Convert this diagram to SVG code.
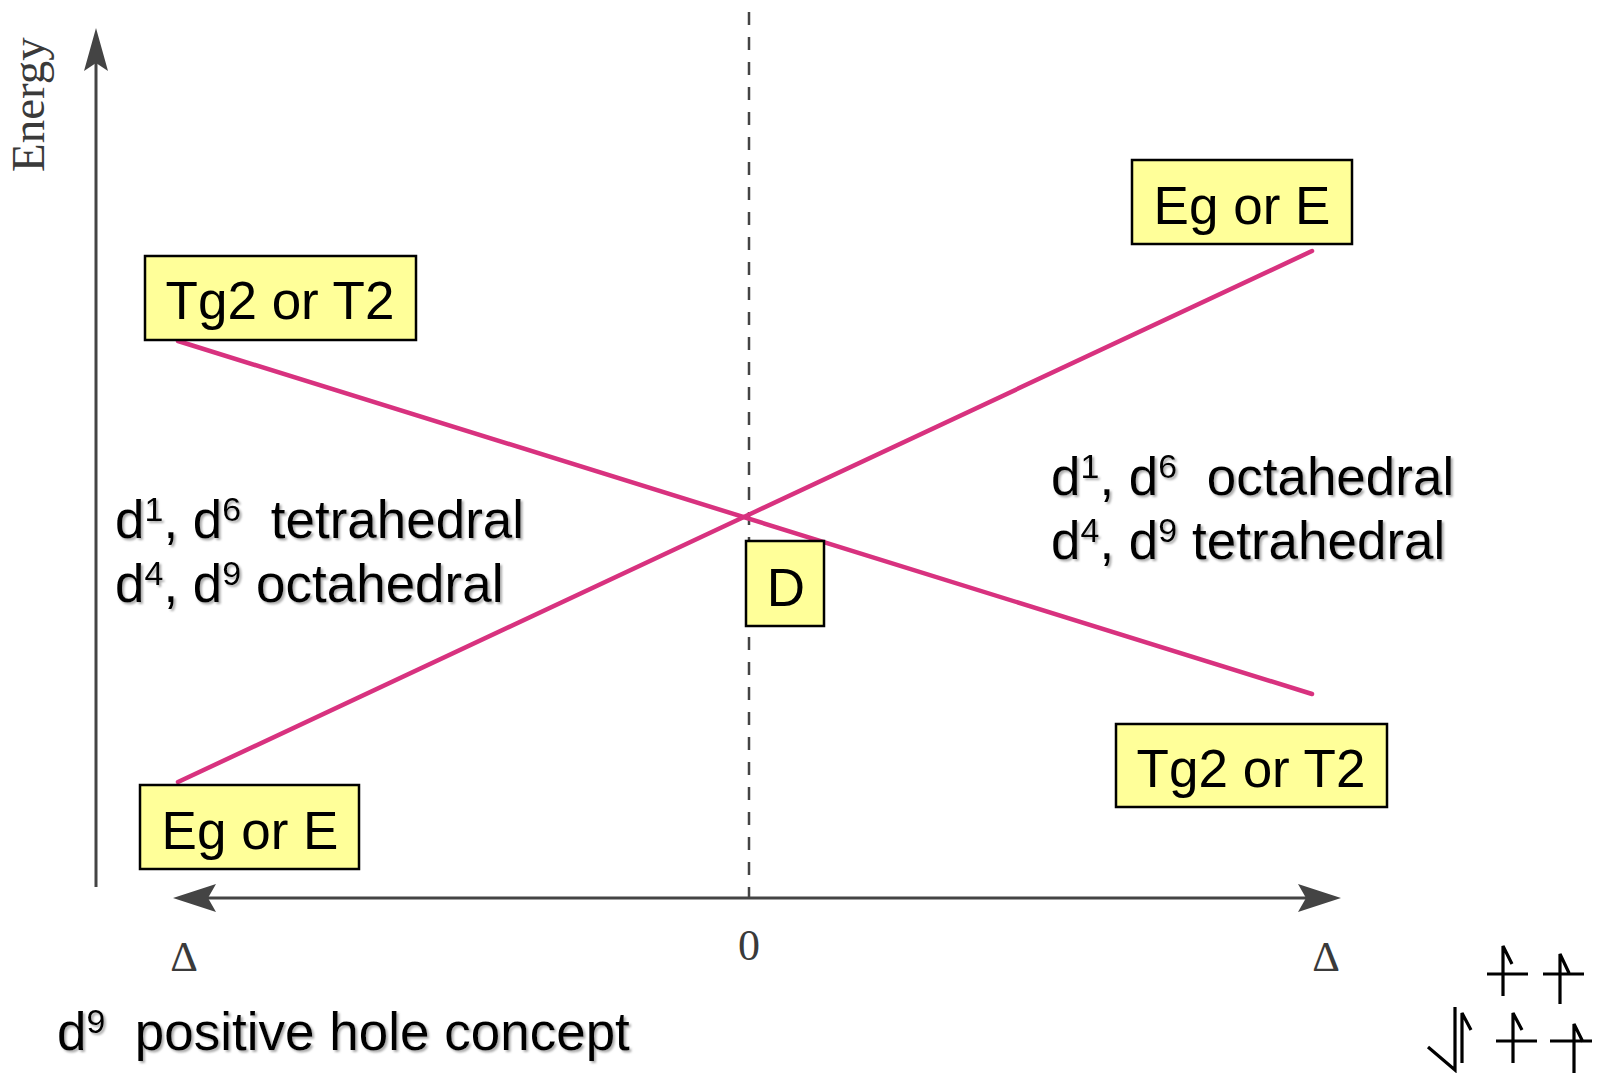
<svg xmlns="http://www.w3.org/2000/svg" width="1598" height="1073" viewBox="0 0 1598 1073">
<style>
.box{fill:#ffff99;stroke:#000;stroke-width:2.5}
.bl{font-family:"Liberation Sans",Arial,sans-serif;font-size:53px;fill:#000;text-anchor:middle}
.tx{font-family:"Liberation Sans",Arial,sans-serif;font-size:53px;fill:#000;filter:url(#sh)}
.sup{font-size:34px}
.ser{font-family:"Liberation Serif","Times New Roman",serif;fill:#3a3a3a}
.pink{stroke:#d8327f;stroke-width:4.5;fill:none;stroke-linecap:round}
.axis{stroke:#444;stroke-width:3;fill:none}
.ah{fill:#444;stroke:none}
.el{stroke:#000;stroke-width:3.2;fill:none;stroke-linecap:butt}
</style>
<defs>
<filter id="sh" x="-5%" y="-20%" width="110%" height="140%">
<feDropShadow dx="2" dy="2" stdDeviation="0.8" flood-color="#888" flood-opacity="0.7"/>
</filter>
</defs>
<rect width="1598" height="1073" fill="#fff"/>
<g id="axes">
<line class="axis" x1="96" y1="55" x2="96" y2="887"/>
<path class="ah" d="M96,28 L108,71 L96,63 L84,71 Z"/>
<line class="axis" x1="200" y1="898" x2="1315" y2="898"/>
<path class="ah" d="M173,898 L216,884 L208,898 L216,912 Z"/>
<path class="ah" d="M1341,898 L1298,884 L1306,898 L1298,912 Z"/>
<line x1="749" y1="12" x2="749" y2="897" stroke="#444" stroke-width="2.5" stroke-dasharray="13 12"/>
<text class="ser" font-size="47" transform="translate(44,172) rotate(-90)" fill="#555">Energy</text>
<text class="ser" font-size="44" x="749" y="960" text-anchor="middle">0</text>
<text class="ser" font-size="43" x="184" y="971" text-anchor="middle">Δ</text>
<text class="ser" font-size="43" x="1326" y="971" text-anchor="middle">Δ</text>
</g>
<g id="connectors">
<line class="pink" x1="178" y1="341" x2="1312" y2="694"/>
<line class="pink" x1="178" y1="782" x2="1312" y2="251"/>
</g>
<g id="node-eg-top">
<rect class="box" x="1132" y="160" width="220" height="84"/>
<text class="bl" x="1242" y="224">Eg or E</text>
</g>
<g id="node-tg2-top">
<rect class="box" x="145" y="256" width="271" height="84"/>
<text class="bl" x="280" y="319">Tg2 or T2</text>
</g>
<g id="node-d">
<rect class="box" x="746" y="541" width="78" height="85"/>
<text class="bl" x="786" y="606">D</text>
</g>
<g id="node-eg-bottom">
<rect class="box" x="140" y="785" width="219" height="84"/>
<text class="bl" x="250" y="849">Eg or E</text>
</g>
<g id="node-tg2-bottom">
<rect class="box" x="1116" y="724" width="271" height="83"/>
<text class="bl" x="1251" y="787">Tg2 or T2</text>
</g>
<g id="label-left">
<text class="tx" x="115" y="538" xml:space="preserve">d<tspan class="sup" dy="-17">1</tspan><tspan dy="17">, d</tspan><tspan class="sup" dy="-17">6</tspan><tspan dy="17">  tetrahedral</tspan></text>
<text class="tx" x="115" y="602" xml:space="preserve">d<tspan class="sup" dy="-17">4</tspan><tspan dy="17">, d</tspan><tspan class="sup" dy="-17">9</tspan><tspan dy="17"> octahedral</tspan></text>
</g>
<g id="label-right">
<text class="tx" x="1051" y="495" xml:space="preserve">d<tspan class="sup" dy="-17">1</tspan><tspan dy="17">, d</tspan><tspan class="sup" dy="-17">6</tspan><tspan dy="17">  octahedral</tspan></text>
<text class="tx" x="1051" y="559" xml:space="preserve">d<tspan class="sup" dy="-17">4</tspan><tspan dy="17">, d</tspan><tspan class="sup" dy="-17">9</tspan><tspan dy="17"> tetrahedral</tspan></text>
</g>
<g id="label-bottom">
<text class="tx" x="57" y="1050" xml:space="preserve">d<tspan class="sup" dy="-17">9</tspan><tspan dy="17">  positive hole concept</tspan></text>
</g>
<g id="electron-config">
<path class="el" d="M1487,974 H1528 M1503,996 V946 L1512,964"/>
<path class="el" d="M1543,974 H1584 M1560,1004 V954 L1569,973"/>
<path class="el" d="M1428,1047 L1455,1070 V1007 M1462,1063 V1013 L1471,1030"/>
<path class="el" d="M1496,1041 H1537 M1513,1063 V1013 L1522,1030"/>
<path class="el" d="M1550,1041 H1592 M1574,1073 V1024 L1583,1042"/>
</g>
</svg>
